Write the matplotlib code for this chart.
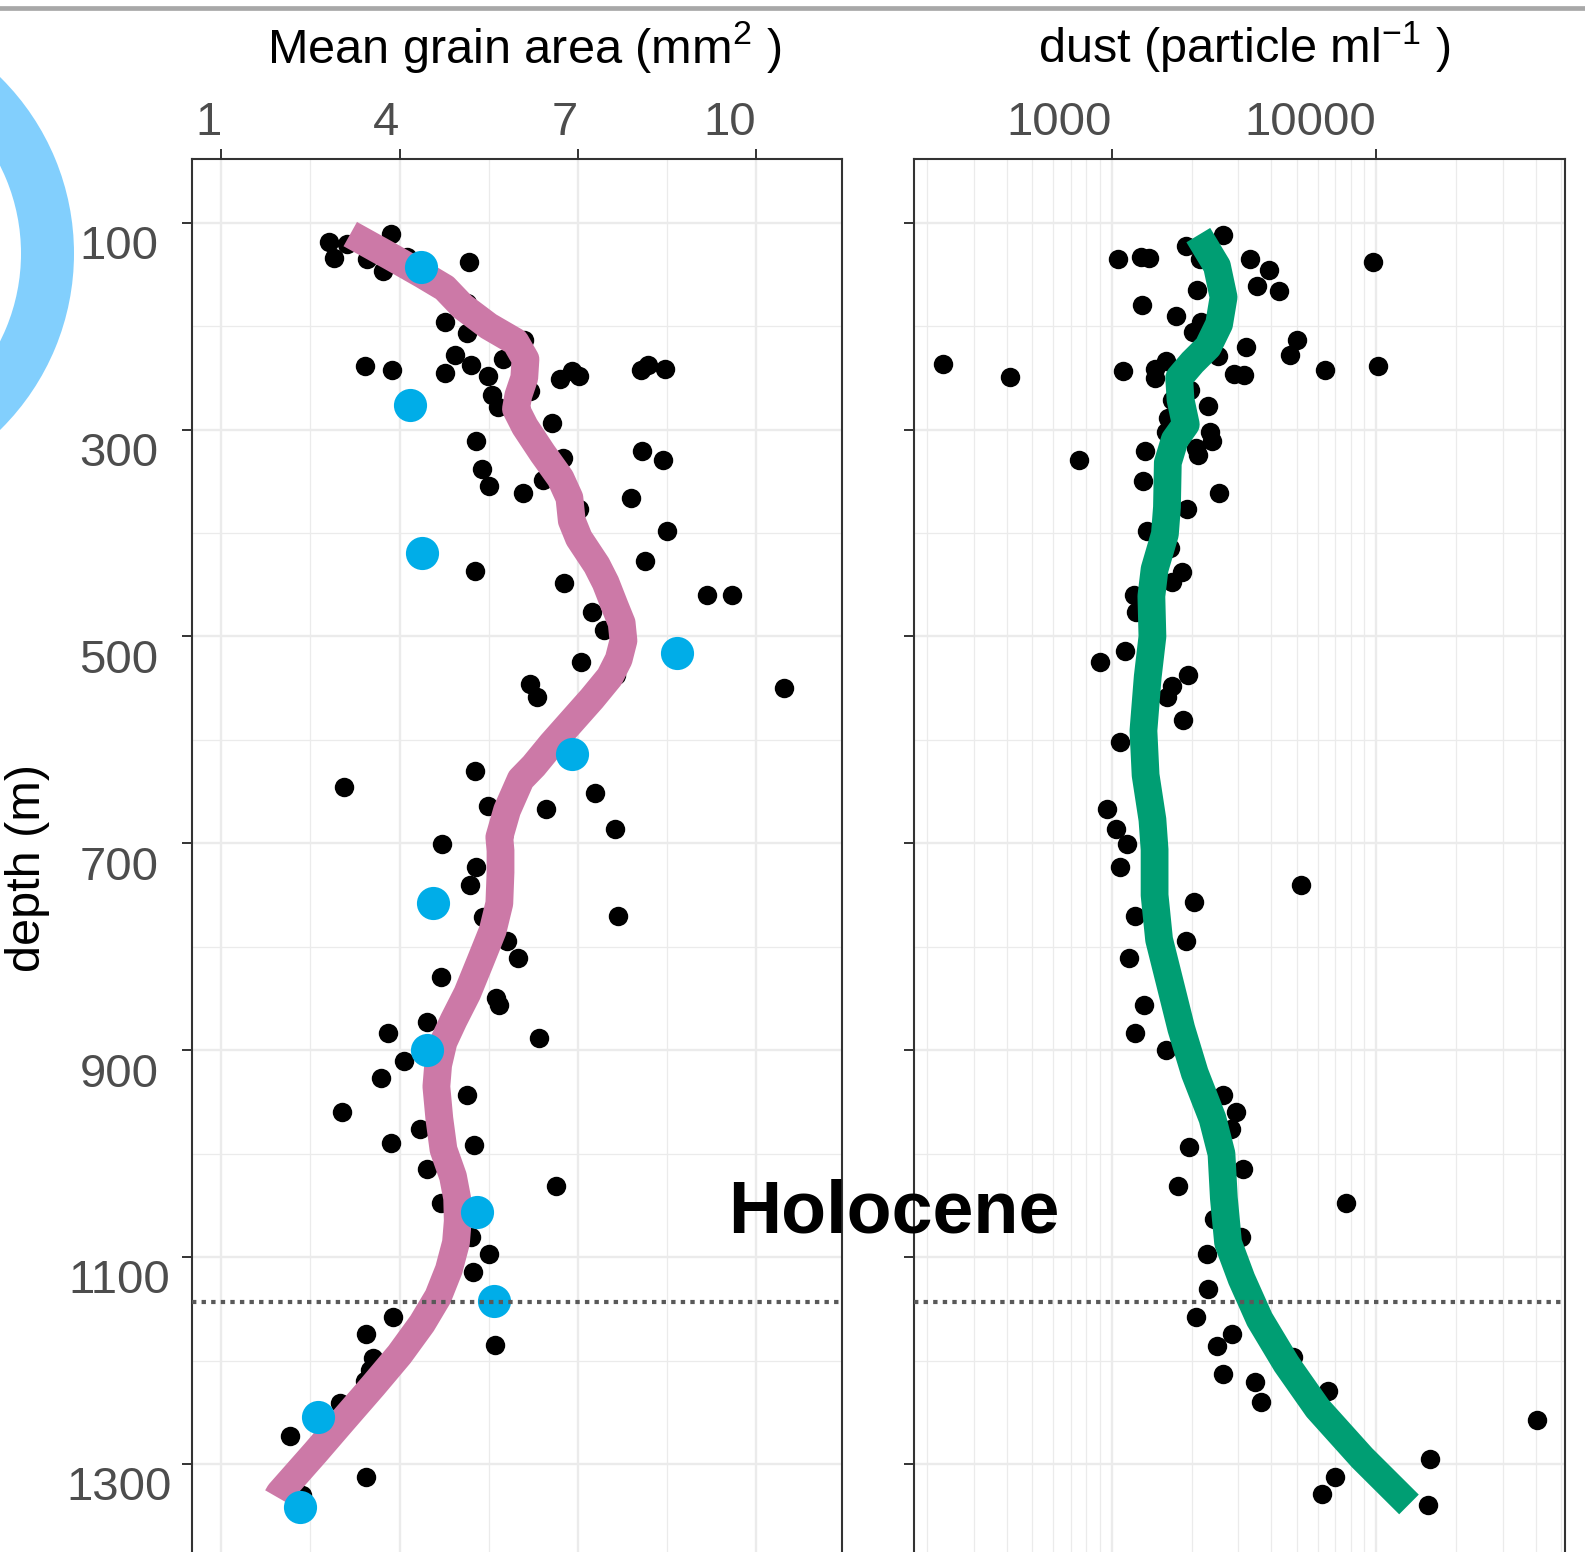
import matplotlib.pyplot as plt
from matplotlib.patches import Wedge
from matplotlib.ticker import FixedLocator, NullFormatter
from matplotlib.transforms import ScaledTranslation

plt.rcParams['font.family'] = ['Liberation Sans', 'DejaVu Sans']
plt.rcParams['mathtext.fontset'] = 'custom'
plt.rcParams['mathtext.rm'] = 'Liberation Sans'
plt.rcParams['mathtext.it'] = 'Liberation Sans'
plt.rcParams['mathtext.default'] = 'regular'

# ---- data ----
grain_x = [2.82, 2.89, 3.11, 3.86, 3.46, 3.72, 4.12, 5.17, 4.74, 5.14, 4.76, 5.14, 6.10, 4.93,
           5.20, 3.41, 3.87, 4.76, 5.49, 5.74, 6.71, 6.90, 7.03, 8.07, 8.18, 8.47, 5.55, 5.66,
           6.19, 6.56, 5.29, 6.75, 5.38, 5.50, 6.08, 6.41, 8.08, 8.43, 7.03, 7.90, 8.50, 5.27,
           8.14, 6.77, 9.18, 9.60, 7.24, 7.45, 7.05, 7.65, 6.20, 6.32, 10.47, 5.27, 3.07, 5.49,
           6.46, 7.29, 7.63, 4.71, 5.29, 5.18, 5.40, 7.68, 5.81, 5.99, 4.69, 5.63, 5.68, 6.34,
           4.47, 3.80, 4.08, 3.68, 5.14, 3.03, 4.34, 3.86, 5.25, 4.46, 6.64, 4.69, 5.20, 5.51,
           5.24, 3.89, 3.44, 3.55, 3.41, 3.50, 3.00, 2.16, 3.44, 5.60, 2.35]
grain_depth = [119, 134, 121, 111, 135, 147, 133, 138, 159, 178, 196, 207, 213, 228,
               238, 239, 242, 245, 248, 232, 251, 243, 248, 242, 238, 241, 267, 278,
               263, 294, 311, 327, 338, 355, 361, 349, 321, 329, 377, 366, 398, 437,
               427, 448, 460, 460, 476, 494, 525, 537, 546, 558, 550, 630, 645, 664,
               667, 651, 686, 701, 723, 740, 771, 770, 794, 811, 829, 849, 856, 888,
               873, 883, 910, 927, 943, 960, 976, 990, 992, 1015, 1031, 1048, 1080, 1097,
               1114, 1158, 1174, 1197, 1220, 1209, 1241, 1273, 1312, 1185, 1330]

sample_x = [4.36, 4.18, 4.38, 8.68, 6.90, 4.56, 4.47, 5.31, 5.59, 2.62, 2.33]
sample_depth = [143, 276, 419, 516, 614, 758, 900, 1056, 1142, 1254, 1341]

grain_fit_x = [3.17, 3.86, 4.38, 4.76, 5.06, 5.50, 5.95, 6.12, 6.10, 6.00, 5.96, 6.11, 6.41,
               6.71, 6.86, 6.90, 7.02, 7.32, 7.47, 7.62, 7.74, 7.77, 7.69, 7.54, 7.24, 6.90,
               6.56, 6.26, 6.04, 5.81, 5.68, 5.70, 5.70, 5.68, 5.57, 5.36, 5.14, 4.91, 4.74,
               4.65, 4.62, 4.67, 4.74, 4.90, 4.97, 4.98, 4.95, 4.83, 4.65, 4.38, 4.00, 3.56,
               3.03, 2.58, 1.98, 1.94]
grain_fit_depth = [111, 133, 150, 163, 181, 200, 215, 232, 250, 267, 280, 297, 323,
                   347, 366, 388, 405, 431, 448, 470, 487, 504, 522, 539, 560, 582,
                   604, 625, 638, 668, 694, 707, 728, 758, 784, 814, 845, 871, 892,
                   914, 935, 966, 996, 1022, 1043, 1065, 1086, 1112, 1138, 1164, 1194, 1224,
                   1259, 1289, 1328, 1332]

dust = [2620, 1900, 1050, 1290, 1380, 2160, 3340, 3910, 3520, 4270, 9700, 2090, 1300, 1740,
        2180, 2020, 3210, 4990, 4710, 2520, 230, 410, 1100, 1460, 1600, 1450, 2890, 3160,
        6400, 10160, 1980, 2310, 1690, 1630, 1600, 2340, 2390, 2110, 2070, 750, 1330, 1310,
        2540, 1920, 1360, 1660, 1840, 1690, 1210, 1230, 1120, 900, 1940, 1690, 1610, 1860,
        1070, 960, 1040, 1140, 1070, 5190, 2050, 1220, 1900, 1160, 1320, 1220, 1600, 2620,
        2950, 2810, 1950, 3120, 1770, 7670, 2430, 3070, 2290, 2310, 2080, 2840, 2500, 2620,
        3480, 3660, 4840, 6580, 40600, 15960, 6970, 6210, 15670]
dust_depth = [112, 123, 135, 133, 134, 135, 135, 146, 161, 166, 138, 165, 180, 190,
              196, 206, 220, 213, 228, 229, 237, 249, 243, 241, 234, 250, 246, 247,
              242, 239, 262, 277, 271, 289, 302, 302, 311, 325, 318, 329, 321, 350,
              361, 377, 398, 414, 438, 447, 460, 476, 514, 525, 537, 548, 558, 581,
              602, 667, 686, 701, 723, 740, 757, 770, 794, 811, 856, 883, 900, 943,
              960, 976, 993, 1015, 1031, 1048, 1063, 1080, 1097, 1131, 1158, 1174, 1186, 1213,
              1221, 1240, 1196, 1229, 1257, 1295, 1312, 1329, 1340]

dust_fit = [2120, 2495, 2642, 2541, 2307, 2014, 1795, 1816, 1901, 1726, 1626, 1614, 1585,
            1449, 1409, 1422, 1365, 1315, 1340, 1422, 1449, 1449, 1507, 1660, 1828, 2056,
            2399, 2594, 2649, 2748, 3090, 3614, 4560, 5984, 8831, 13274]
dust_fit_depth = [112, 142, 172, 198, 220, 235, 250, 271, 295, 310, 332, 375, 401,
                  435, 461, 500, 539, 591, 634, 677, 706, 750, 793, 836, 879, 922,
                  966, 1000, 1043, 1086, 1121, 1160, 1203, 1246, 1294, 1339]

holocene_depth = 1143
depth_major = [100, 300, 500, 700, 900, 1100, 1300, 1500]
depth_minor = [200, 400, 600, 800, 1000, 1200, 1400]
grain_ticks = [1, 4, 7, 10]
grain_minor = [2.5, 5.5, 8.5, 11.5]
dust_ticks = [1000, 10000]
dust_minor = [k * 10 ** e for e in (2, 3, 4) for k in range(2, 10)]

# ---- layout (pixels of the 1585x1552 output) ----
W, H, DPI = 1585, 1552, 100
PX_PER_M = 1.0345
Y100 = 222.7
TOP_PX = 159.3
DEPTH_TOP = 100 - (Y100 - TOP_PX) / PX_PER_M
DEPTH_BOT = 1420
BOT_PX = Y100 + (DEPTH_BOT - 100) * PX_PER_M
GRID = '#EBEBEB'
DARK = '#333333'
TICKTXT = '#4D4D4D'

fig = plt.figure(figsize=(W / DPI, H / DPI), dpi=DPI)
fig.patch.set_facecolor('white')

bg = fig.add_axes([0, 0, 1, 1], zorder=-5)
bg.set_xlim(0, W)
bg.set_ylim(H, 0)
bg.axis('off')
bg.add_patch(Wedge((-173.5, 253.5), 247.5, 0, 360, width=53, color='#82CFFD', lw=0))
bg.axhline(8.3, color='#A8A8A8', lw=3.4)


def panel(x0, x1):
    return fig.add_axes([x0 / W, 1 - BOT_PX / H, (x1 - x0) / W, (BOT_PX - TOP_PX) / H])


def style(ax, xmajor, xminor, xlabels, ylabels):
    ax.set_ylim(DEPTH_BOT, DEPTH_TOP)
    ax.yaxis.set_major_locator(FixedLocator(depth_major))
    ax.yaxis.set_minor_locator(FixedLocator(depth_minor))
    ax.xaxis.set_major_locator(FixedLocator(xmajor))
    ax.xaxis.set_minor_locator(FixedLocator(xminor))
    ax.xaxis.set_minor_formatter(NullFormatter())
    ax.grid(which='major', color=GRID, lw=1.7)
    ax.grid(which='minor', color=GRID, lw=0.9)
    ax.set_axisbelow(True)
    ax.xaxis.tick_top()
    ax.tick_params(which='major', length=7, width=1.4, color=DARK,
                   labeltop=False, labelleft=False, labelbottom=False)
    ax.tick_params(which='minor', length=0)
    for s in ax.spines.values():
        s.set_color(DARK)
        s.set_linewidth(1.5)
    xtr = ax.get_xaxis_transform() + ScaledTranslation(0, 24.3 / DPI, fig.dpi_scale_trans)
    for v, lab in zip(xmajor, xlabels):
        ax.text(v, 1, lab, transform=xtr, ha='right', va='baseline', fontsize=34, color=TICKTXT)
    if ylabels:
        ytr = ax.get_yaxis_transform() + ScaledTranslation(-73.6 / DPI, -2.3 / DPI, fig.dpi_scale_trans)
        for d in depth_major[:-1]:
            ax.text(0, d, str(d), transform=ytr, ha='center', va='top', fontsize=34, color=TICKTXT)


def holocene_line(ax):
    ax.axhline(holocene_depth, color='#595959', lw=3.0, dashes=(1.05, 1.25),
               dash_capstyle='butt', zorder=5)


# left: grain area
ax1 = panel(192.4, 842)
ax1.set_xlim(0.512, 11.45)
style(ax1, grain_ticks, grain_minor, [str(t) for t in grain_ticks], True)
ax1.scatter(grain_x, grain_depth, s=196, c='black', lw=0, zorder=2)
ax1.plot(grain_fit_x, grain_fit_depth, color='#CC79A7', lw=20, solid_capstyle='butt',
         solid_joinstyle='round', zorder=3)
ax1.scatter(sample_x, sample_depth, s=570, c='#00ADE8', lw=0, zorder=4)
holocene_line(ax1)

# right: dust
ax2 = panel(914.4, 1565)
ax2.set_xscale('log')
ax2.set_xlim(179, 51640)
style(ax2, dust_ticks, dust_minor, ['1000', '10000'], False)
ax2.scatter(dust, dust_depth, s=196, c='black', lw=0, zorder=2)
ax2.plot(dust_fit, dust_fit_depth, color='#009E73', lw=20, solid_capstyle='butt',
         solid_joinstyle='round', zorder=3)
holocene_line(ax2)

# titles and annotations
fig.text(523.7 / W, 1 - 63 / H, r'Mean grain area (mm$^2$ )', ha='center', va='baseline', fontsize=35)
fig.text(1243.8 / W, 1 - 63 / H, r'dust (particle ml$^{-1}$ )', ha='center', va='baseline', fontsize=35)
fig.text(28 / W, 1 - 868 / H, 'depth (m)', rotation=90, ha='center', va='center', fontsize=35)
fig.text(894 / W, 1 - 1232.5 / H, 'Holocene', ha='center', va='baseline', fontsize=53,
         fontweight='bold')

fig.savefig('out.png', dpi=DPI)
